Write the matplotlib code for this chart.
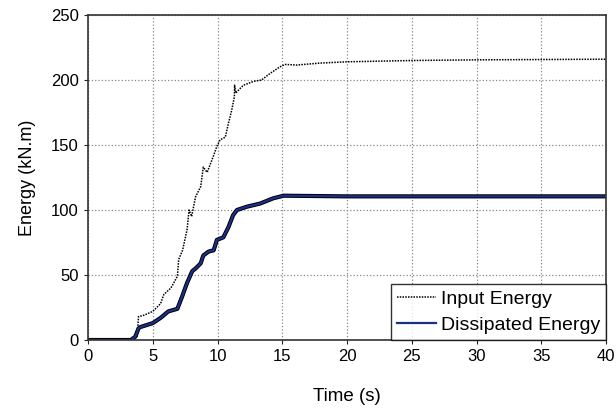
import matplotlib.pyplot as plt

plt.rcParams['font.family'] = ['Liberation Sans', 'DejaVu Sans']

# Input energy (kN.m)
t_input = [0, 3.0, 3.5, 3.8, 3.9, 4.3, 5.0, 5.6, 5.85, 6.4, 6.9, 7.0, 7.3, 7.65, 7.8,
           8.0, 8.3, 8.7, 8.9, 9.2, 9.55, 9.7, 9.95, 10.2, 10.6, 10.85, 11.1, 11.3,
           11.32, 11.4, 12.0, 12.8, 13.4, 14.05, 14.8, 15.2, 16.1, 17.9, 20, 25, 30, 40]
e_input = [0, 0, 1, 3, 18, 19, 22, 28, 35, 40, 49, 62, 69, 85, 100,
           95, 110, 118, 133, 129, 138, 142, 149, 154, 156, 167, 177, 187,
           196, 190, 196, 199, 200, 205, 210, 212, 211.5, 213, 214, 215, 215.5, 216]

# Dissipated energy (kN.m)
t_diss = [0, 3.3, 3.65, 3.9, 4.05, 5.0, 5.6, 6.2, 6.9, 7.25, 7.65, 8.05, 8.3, 8.7,
          8.9, 9.3, 9.7, 9.95, 10.45, 10.85, 11.2, 11.5, 12.25, 13.3, 14.3, 15.1, 20, 40]
e_diss = [0, 0, 2.5, 9, 10, 13, 17, 22, 24, 33, 44, 53, 55, 59,
          65, 68, 69, 77, 79, 87, 96, 100, 102.5, 105, 109, 111, 110.5, 110.5]

fig = plt.figure(figsize=(6.16, 4.11), dpi=100)
ax = fig.add_axes([0.1429, 0.1727, 0.8409, 0.7908])

ax.plot(t_input, e_input, color='black', linestyle=(0, (1, 0.8)), linewidth=1.1,
        label='Input Energy')
ax.plot(t_diss, e_diss, color='black', linewidth=3.0, solid_capstyle='butt')
ax.plot(t_diss, e_diss, color='#1a2f8a', linewidth=1.6, label='Dissipated Energy')

ax.set_xlim(0, 40)
ax.set_ylim(0, 250)
ax.set_xticks(range(0, 41, 5))
ax.set_yticks(range(0, 251, 50))
ax.grid(True, color='#888888', linestyle=':', linewidth=0.9)
ax.tick_params(labelsize=12, direction='out', length=3, colors='#222222', labelcolor='black')
for s in ax.spines.values():
    s.set_linewidth(1.2)
    s.set_color('#333333')

ax.set_xlabel('Time (s)', fontsize=13.5, labelpad=17)
ax.set_ylabel('Energy (kN.m)', fontsize=13, labelpad=11)

leg = ax.legend(loc='lower right', fontsize=14, frameon=True, fancybox=False,
                borderaxespad=0, handlelength=2.0, handletextpad=0.25,
                labelspacing=0.45, borderpad=0.3)
leg.get_frame().set_edgecolor('black')
leg.get_frame().set_linewidth(1.0)

fig.savefig('out.png', dpi=100)
